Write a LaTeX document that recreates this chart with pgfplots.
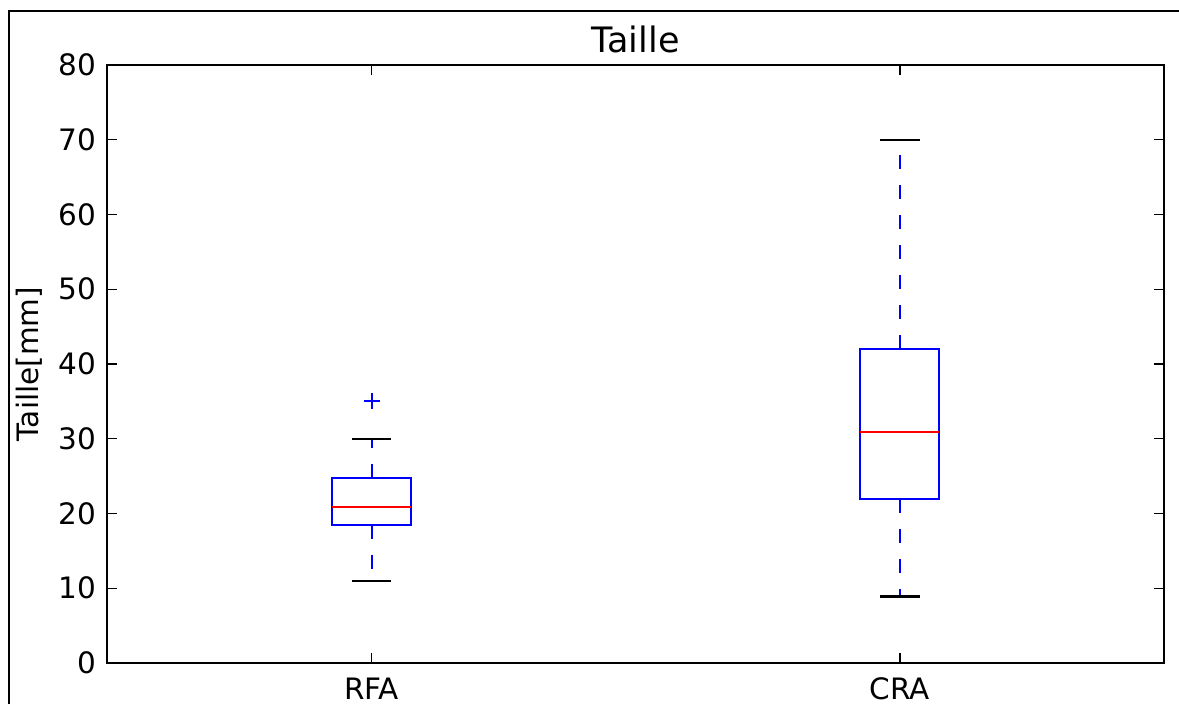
\documentclass[border=0pt]{standalone}
\usepackage{fontspec}
\setmainfont{DejaVu Sans}
\usepackage{pgfplots}
\pgfplotsset{compat=1.18}

\begin{document}
\begin{tikzpicture}
\begin{axis}[
  at={(0,0)}, anchor=south west,
  scale only axis, width=422.6pt, height=239.2pt,
  xmin=0.5, xmax=2.5, ymin=0, ymax=80,
  xtick={1,2}, xticklabels={RFA,CRA},
  ytick={0,10,...,80},
  xtick pos=both, ytick pos=both,
  xticklabel pos=lower, yticklabel pos=left,
  tick align=inside, major tick length=4pt,
  tick style={black, line width=0.5pt},
  axis line style={line width=0.8pt},
  /pgf/number format/assume math mode=true,
  tick label style={font=\fontsize{11.8}{14}\selectfont},
  xticklabel style={inner sep=0pt, anchor=north, yshift=-5.6pt},
  yticklabel style={inner sep=0pt, anchor=east, xshift=-4.3pt},
  title={Taille},
  every axis title shift=0pt,
  title style={font=\fontsize{14}{17}\selectfont, inner sep=0pt,
    at={(axis description cs:0.5,1.0217)}, anchor=base},
  ylabel={Taille[mm]},
  ylabel style={font=\fontsize{11.8}{14}\selectfont, inner sep=0pt,
    at={(axis description cs:-0.061,0.5)}, anchor=south},
  box/.style={blue, line width=0.8pt, mark=none},
  med/.style={red, line width=0.6pt, mark=none},
  whisk/.style={blue, line width=0.85pt, mark=none, dash pattern=on 5.8pt off 6.2pt},
  cap/.style={black, line width=0.9pt, mark=none},
]
% RFA: whiskers 11 / 30, quartiles 18.5 / 24.7, median 20.9, outlier 35
\addplot[whisk] coordinates {(1,18.5) (1,11)};
\addplot[whisk] coordinates {(1,24.7) (1,30)};
\addplot[cap] coordinates {(0.9625,11) (1.0375,11)};
\addplot[cap] coordinates {(0.9625,30) (1.0375,30)};
\addplot[box] coordinates {(0.925,18.5) (1.075,18.5) (1.075,24.7) (0.925,24.7)} -- cycle;
\addplot[med] coordinates {(0.925,20.9) (1.075,20.9)};
\addplot[color=blue, only marks, mark=+, mark size=3.2pt,
  mark options={draw=blue, solid, line width=0.8pt}]
  coordinates {(1,35)};
% CRA: whiskers 8.9 / 70, quartiles 22 / 42, median 30.9
\addplot[whisk] coordinates {(2,22) (2,8.9)};
\addplot[whisk] coordinates {(2,42) (2,70)};
\addplot[cap] coordinates {(1.9625,8.9) (2.0375,8.9)};
\addplot[cap] coordinates {(1.9625,70) (2.0375,70)};
\addplot[box] coordinates {(1.925,22) (2.075,22) (2.075,42) (1.925,42)} -- cycle;
\addplot[med] coordinates {(1.925,30.9) (2.075,30.9)};
\end{axis}
% outer frame, cut by the picture edge
\draw[line width=0.8pt] (-39.4pt,-16.4pt) -- (-39.4pt,260.6pt) -- (428.6pt,260.6pt);
\pgfresetboundingbox
\useasboundingbox (-43pt,-16.4pt) rectangle (428.6pt,265.2pt);
\end{tikzpicture}
\end{document}
